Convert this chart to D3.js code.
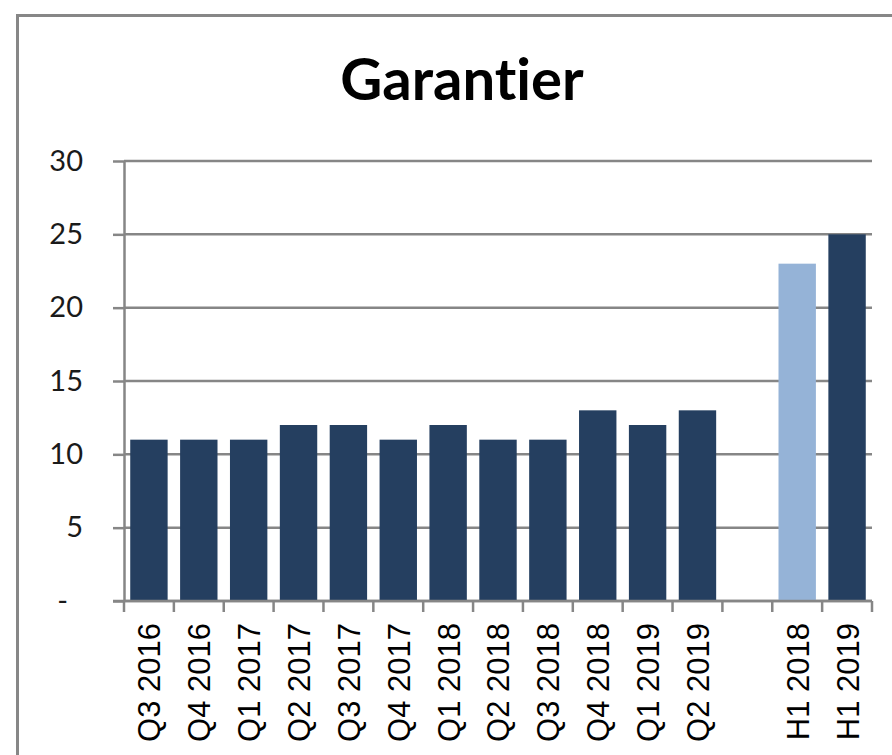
<!DOCTYPE html>
<html><head><meta charset="utf-8">
<script src="https://cdn.jsdelivr.net/npm/d3@7"></script>
<style>body{margin:0;background:#fff;overflow:hidden} text{font-variant-ligatures:none;font-feature-settings:"liga" 0}</style>
</head><body>
<svg id="chart" width="892" height="755"></svg>
<script>
const title = "Garantier";
const categories = ["Q3 2016","Q4 2016","Q1 2017","Q2 2017","Q3 2017","Q4 2017","Q1 2018","Q2 2018","Q3 2018","Q4 2018","Q1 2019","Q2 2019","","H1 2018","H1 2019"];
const values = [11,11,11,12,12,11,12,11,11,13,12,13,null,23,25];
const groups = ["q","q","q","q","q","q","q","q","q","q","q","q","","prev","cur"];
const yTicks = [0,5,10,15,20,25,30];
const yTickLabels = ["-","5","10","15","20","25","30"];

(function(){
const colors = {q:"#253f60", prev:"#95b3d7", cur:"#253f60"};
const gridColor = "#868686";

const svg = d3.select("#chart");
const pLeft = 124, pRight = 872, pTop = 161, pBottom = 601;

// outer chart border
svg.append("rect").attr("x",17.5).attr("y",15.5).attr("width",1000).attr("height",1000)
  .attr("fill","none").attr("stroke","#878787").attr("stroke-width",3);

svg.append("text").attr("x",462).attr("y",100).attr("text-anchor","middle")
  .attr("font-family","Lato, 'Open Sans', sans-serif").attr("font-weight","bold")
  .attr("font-size",58).attr("fill","#000").text(title);

const x = d3.scaleBand().domain(categories).range([pLeft,pRight]).paddingInner(0.25).paddingOuter(0.125);
const y = d3.scaleLinear().domain([0,30]).range([pBottom,pTop]);

// gridlines
svg.append("g").selectAll("line").data(yTicks).join("line")
  .attr("x1",pLeft).attr("x2",pRight).attr("y1",d=>y(d)).attr("y2",d=>y(d))
  .attr("stroke",gridColor).attr("stroke-width",2.5);

// bars
svg.append("g").selectAll("rect").data(categories.map((c,i)=>({c,v:values[i],g:groups[i]})).filter(d=>d.v!=null))
  .join("rect")
  .attr("x",d=>x(d.c)).attr("width",x.bandwidth())
  .attr("y",d=>y(d.v)).attr("height",d=>y(0)-y(d.v))
  .attr("fill",d=>colors[d.g]);

// y axis
const yAxis = svg.append("g").attr("transform",`translate(${pLeft},0)`)
  .call(d3.axisLeft(y).tickValues(yTicks).tickFormat((d,i)=>yTickLabels[i]).tickSize(11).tickSizeOuter(0).tickPadding(30));
yAxis.select(".domain").attr("stroke",gridColor).attr("stroke-width",2.5);
yAxis.selectAll(".tick line").attr("stroke",gridColor).attr("stroke-width",2.5);
yAxis.selectAll(".tick text").attr("font-family","Lato, 'Open Sans', sans-serif").attr("font-size",29).attr("fill","#1a1a1a")
  .attr("dx",(d,i)=>yTickLabels[i]==="-"?-15:0);

// x axis baseline and boundary ticks
svg.append("line").attr("x1",pLeft-11).attr("x2",pRight).attr("y1",pBottom).attr("y2",pBottom)
  .attr("stroke",gridColor).attr("stroke-width",2.5);
const bounds = d3.range(categories.length+1).map(i => x(categories[0]) - x.step()*x.paddingInner()/2 + i*x.step());
svg.append("g").selectAll("line").data(bounds).join("line")
  .attr("x1",d=>d).attr("x2",d=>d).attr("y1",pBottom).attr("y2",pBottom+11)
  .attr("stroke",gridColor).attr("stroke-width",2.5);

// x labels
svg.append("g").selectAll("text").data(categories).join("text")
  .attr("transform",d=>`translate(${x(d)+x.bandwidth()/2},${pBottom}) rotate(-90)`)
  .attr("x",-22).attr("dy","0.37em").attr("text-anchor","end")
  .attr("font-family","'Liberation Sans', Arial, sans-serif").attr("font-size",31).attr("fill","#000")
  .text(d=>d);
})();
</script>
</body></html>
